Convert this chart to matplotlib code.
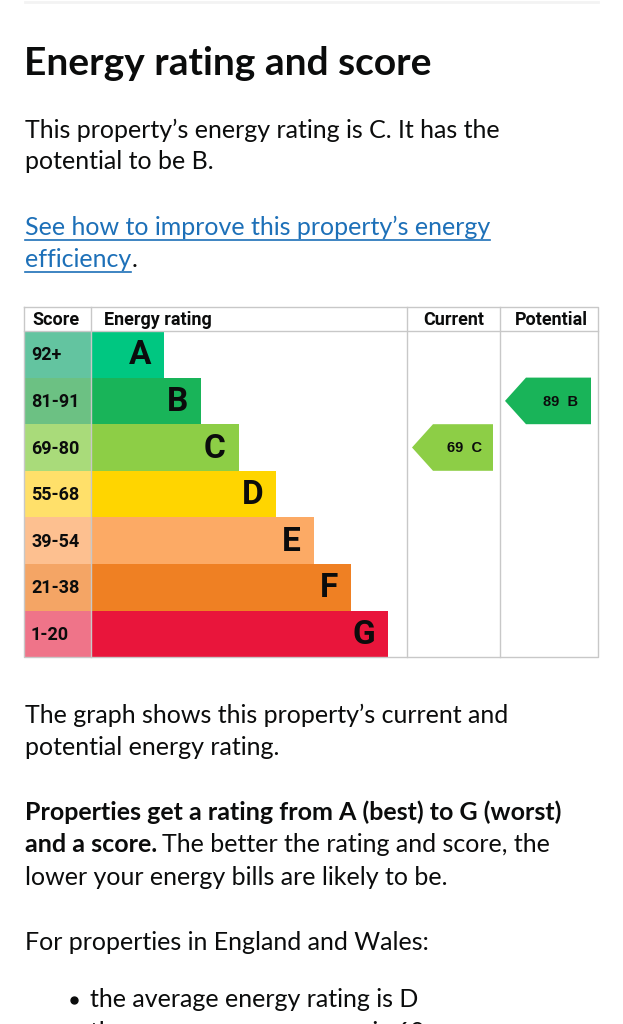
import matplotlib
matplotlib.use("Agg")
import matplotlib.pyplot as plt
from matplotlib.patches import Polygon, Rectangle

# chart data
ratings = ["A", "B", "C", "D", "E", "F", "G"]
score_bands = ["92+", "81-91", "69-80", "55-68", "39-54", "21-38", "1-20"]
band_min = [92, 81, 69, 55, 39, 21, 1]
bar_colors = ["#00c781", "#19b459", "#8dce46", "#ffd500", "#fcaa65", "#ef8023", "#e9153b"]
score_colors = ["#63c4a0", "#6cc183", "#a9db7a", "#ffe06a", "#fdc090", "#f4a565", "#ef7489"]
columns = ["Score", "Energy rating", "Current", "Potential"]
current_score = 69
potential_score = 89

body_font = "Lato"
chart_font = "Roboto"
text_color = "#0b0c0c"
link_color = "#1d70b8"
grid_color = "#c8c8c8"


def band_of(score):
    for i, lo in enumerate(band_min):
        if score >= lo:
            return i
    return len(band_min) - 1


fig = plt.figure(figsize=(6.23, 10.24), dpi=100)
ax = fig.add_axes([0, 0, 1, 1])
ax.set_xlim(0, 623)
ax.set_ylim(1024, 0)
ax.axis("off")
renderer = fig.canvas.get_renderer()


def text_right(t):
    bb = t.get_window_extent(renderer)
    return ax.transData.inverted().transform((bb.x1, bb.y0))[0]


def body(x, y, s, weight="normal", color=text_color, size=18):
    return ax.text(x, y, s, fontsize=size, family=body_font, weight=weight,
                   color=color, va="baseline", ha="left")


# faint rule at the top
ax.plot([25, 598], [2, 2], color="#f3f3f3", lw=2)

# heading and intro text
body(24, 75, "Energy rating and score", weight="bold", size=28)
body(25, 138, "This property\u2019s energy rating is C. It has the")
body(25, 169, "potential to be B.")

l1 = body(25, 235, "See how to improve this property\u2019s energy", color=link_color)
l2 = body(25, 267, "efficiency", color=link_color)
for t, y in [(l1, 240), (l2, 272)]:
    ax.plot([25, text_right(t)], [y, y], color=link_color, lw=1.2)
body(text_right(l2), 267, ".")

# table geometry
left, right = 24, 598
top, head_bot = 307, 331
row_h = 46.6
col_x = [24, 91, 407, 500, 598]
bar_left = 91
bar_step = 37.4
bar_base = 73
n = len(ratings)
bottom = head_bot + row_h * n

for i, r in enumerate(ratings):
    y0 = head_bot + i * row_h
    ax.add_patch(Rectangle((col_x[0], y0), col_x[1] - col_x[0], row_h,
                           facecolor=score_colors[i], edgecolor="none"))
    ax.barh(y0 + row_h / 2, bar_base + bar_step * i, height=row_h, left=bar_left,
            color=bar_colors[i], edgecolor="none")
    bar_end = bar_left + bar_base + bar_step * i
    ax.text(31, y0 + row_h / 2 + 1, score_bands[i], family=chart_font,
            weight="bold", fontsize=13, color=text_color, va="center", ha="left")
    ax.text(bar_end - 13, y0 + row_h / 2 + 1, r, family=chart_font, weight="bold",
            fontsize=24, color=text_color, va="center", ha="right")

# grid lines
ax.plot([left, right, right, left, left], [top, top, bottom, bottom, top],
        color=grid_color, lw=1)
ax.plot([left, right], [head_bot, head_bot], color=grid_color, lw=1)
for x in col_x[1:4]:
    ax.plot([x, x], [top, bottom], color=grid_color, lw=1)

# header
hdr = dict(family=chart_font, weight="bold", fontsize=13, color=text_color, va="center")
ax.text(32, 320, columns[0], **hdr)
ax.text(104, 320, columns[1], **hdr)
ax.text((col_x[2] + col_x[3]) / 2, 320, columns[2], ha="center", **hdr)
ax.text((col_x[3] + col_x[4]) / 2 + 2, 320, columns[3], ha="center", **hdr)


def arrow(col, score):
    i = band_of(score)
    y0 = head_bot + i * row_h
    x0 = col_x[col] + 5
    x1 = col_x[col + 1] - 7
    yc = y0 + row_h / 2
    pts = [(x0, yc), (x0 + 21, y0), (x1, y0), (x1, y0 + row_h), (x0 + 21, y0 + row_h)]
    ax.add_patch(Polygon(pts, closed=True, facecolor=bar_colors[i], edgecolor="none"))
    ax.text((x0 + 21 + x1) / 2 + 2, yc + 1, f"{score}  {ratings[i]}",
            family="Liberation Sans", weight="bold", fontsize=10.5,
            color=text_color, va="center", ha="center")


arrow(2, current_score)
arrow(3, potential_score)

# text below the chart
body(25, 723, "The graph shows this property\u2019s current and")
body(25, 755, "potential energy rating.")
body(25, 820, "Properties get a rating from A (best) to G (worst)", weight="bold")
b = body(25, 852, "and a score.", weight="bold")
body(text_right(b) + 5, 852, "The better the rating and score, the")
body(25, 885, "lower your energy bills are likely to be.")
body(25, 950, "For properties in England and Wales:")
ax.plot([74], [1000], "o", color=text_color, ms=5)
body(90, 1007, "the average energy rating is D")
ax.plot([74], [1033], "o", color=text_color, ms=5)
body(90, 1040, "the average energy score is 60")

fig.savefig("out.png", dpi=100)
